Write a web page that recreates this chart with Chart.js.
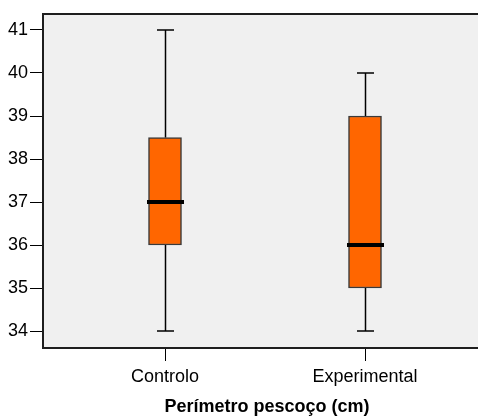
<!DOCTYPE html>
<html>
<head>
<meta charset="utf-8">
<script src="https://cdn.jsdelivr.net/npm/chart.js@4/dist/chart.umd.min.js"></script>
<style>
  html, body { margin: 0; padding: 0; background: #ffffff; overflow: hidden; }
  #wrap { width: 478px; height: 416px; overflow: hidden; position: relative; }
  canvas { display: block; }
</style>
</head>
<body>
<div id="wrap"><canvas id="c" width="491" height="416"></canvas></div>
<script>
// Neck perimeter (cm) by group: five-number summaries
const groups   = ['Controlo', 'Experimental'];
const minimums = [34, 34];
const lowerQ   = [36, 35];
const medians  = [37, 36];
const upperQ   = [38.5, 39];
const maximums = [41, 40];
const yTicks   = [34, 35, 36, 37, 38, 39, 40, 41];
const axisTitle = 'Perímetro pescoço (cm)';

const positions = groups.map((g, i) => i + 1);
const FONT = 'Liberation Sans, Arial, Helvetica, sans-serif';

// plot background and top frame line
const frame = {
  id: 'frame',
  beforeDraw(chart) {
    const { ctx, chartArea: a } = chart;
    ctx.save();
    ctx.fillStyle = '#f0f0f0';
    ctx.fillRect(a.left, a.top, a.right - a.left, a.bottom - a.top);
    ctx.restore();
  },
  afterDraw(chart) {
    const { ctx, chartArea: a } = chart;
    ctx.save();
    ctx.strokeStyle = '#1e1e1e';
    ctx.lineWidth = 2;
    ctx.beginPath();
    ctx.moveTo(a.left - 1, a.top);
    ctx.lineTo(a.right, a.top);
    ctx.stroke();
    ctx.restore();
  }
};

// whiskers, caps and median bars on top of the boxes
const boxParts = {
  id: 'boxParts',
  afterDatasetsDraw(chart) {
    const { ctx } = chart;
    const xs = chart.scales.x, ys = chart.scales.y;
    const meta = chart.getDatasetMeta(0);
    ctx.save();
    positions.forEach((p, i) => {
      const cx = Math.round(xs.getPixelForValue(p)) + 0.5;
      const bar = meta.data[i];
      const half = bar.width / 2;
      const yMin = ys.getPixelForValue(minimums[i]);
      const yMax = ys.getPixelForValue(maximums[i]);
      const yQ1 = ys.getPixelForValue(lowerQ[i]);
      const yQ3 = ys.getPixelForValue(upperQ[i]);
      const yMed = ys.getPixelForValue(medians[i]);
      ctx.strokeStyle = '#000000';
      ctx.lineWidth = 1.5;
      ctx.beginPath();
      ctx.moveTo(cx, yQ3); ctx.lineTo(cx, yMax);
      ctx.moveTo(cx, yQ1); ctx.lineTo(cx, yMin);
      ctx.moveTo(cx - 8.5, yMax); ctx.lineTo(cx + 8.5, yMax);
      ctx.moveTo(cx - 8.5, yMin); ctx.lineTo(cx + 8.5, yMin);
      ctx.stroke();
      ctx.lineWidth = 4;
      ctx.beginPath();
      ctx.moveTo(cx - half - 2, yMed); ctx.lineTo(cx + half + 2, yMed);
      ctx.stroke();
    });
    ctx.restore();
  }
};

new Chart(document.getElementById('c'), {
  type: 'bar',
  data: {
    datasets: [{
      data: positions.map((p, i) => ({ x: p, y: [lowerQ[i], upperQ[i]] })),
      backgroundColor: '#ff6600',
      borderColor: '#3a3a3a',
      borderWidth: 1.5,
      borderSkipped: false,
      barThickness: 33
    }]
  },
  options: {
    responsive: false,
    animation: false,
    layout: { padding: { top: 14, left: 0, right: 0, bottom: 0 } },
    plugins: { legend: { display: false }, tooltip: { enabled: false } },
    scales: {
      x: {
        type: 'linear',
        offset: false,
        min: 0.39,
        max: 2.63,
        afterBuildTicks(scale) { scale.ticks = positions.map(v => ({ value: v })); },
        afterFit(scale) { scale.height = 68; },
        grid: { offset: false, drawOnChartArea: false, drawTicks: true, tickLength: 13, tickColor: '#000', tickWidth: 1 },
        border: { display: true, color: '#1e1e1e', width: 2 },
        ticks: {
          autoSkip: false,
          maxRotation: 0,
          padding: 5,
          color: '#000',
          font: { family: FONT, size: 18 },
          callback: (v) => groups[positions.indexOf(v)] || ''
        },
        title: {
          display: true,
          text: axisTitle,
          color: '#000',
          font: { family: FONT, size: 18, weight: 'bold' },
          padding: { top: 0, bottom: -2 }
        }
      },
      y: {
        min: 33.605,
        max: 41.372,
        afterBuildTicks(scale) { scale.ticks = yTicks.map(v => ({ value: v })); },
        afterFit(scale) { scale.width = 43; },
        grid: { drawOnChartArea: false, drawTicks: true, tickLength: 13, tickColor: '#000', tickWidth: 1 },
        border: { display: true, color: '#1e1e1e', width: 2 },
        ticks: {
          padding: 2,
          color: '#000',
          font: { family: FONT, size: 18 },
          callback: (v) => String(v)
        }
      }
    }
  },
  plugins: [frame, boxParts]
});
</script>
</body>
</html>
